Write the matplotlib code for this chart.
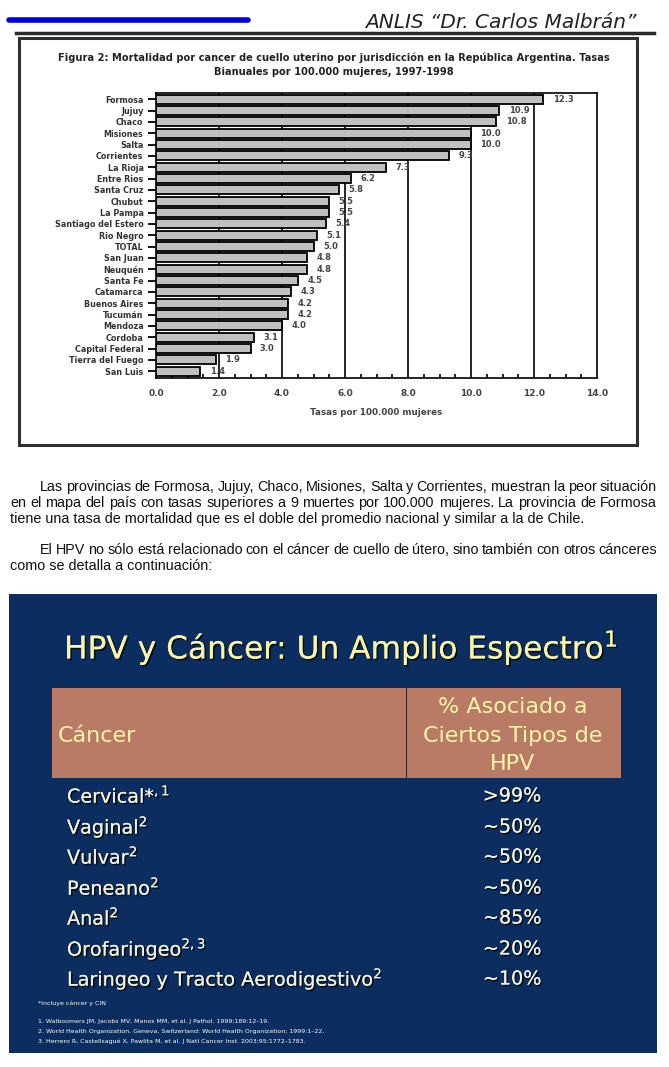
import matplotlib
matplotlib.use('Agg')
import matplotlib.pyplot as plt
import matplotlib.patches as mpatches
import matplotlib.patheffects as pe
from matplotlib.ticker import MultipleLocator

# DATOS DEL GRAFICO

provincias = ['Formosa', 'Jujuy', 'Chaco', 'Misiones', 'Salta', 'Corrientes', 'La Rioja',
              'Entre Rios', 'Santa Cruz', 'Chubut', 'La Pampa', 'Santiago del Estero',
              'Rio Negro', 'TOTAL', 'San Juan', 'Neuquén', 'Santa Fe', 'Catamarca',
              'Buenos Aires', 'Tucumán', 'Mendoza', 'Cordoba', 'Capital Federal',
              'Tierra del Fuego', 'San Luis']
tasas = [12.3, 10.9, 10.8, 10.0, 10.0, 9.3, 7.3, 6.2, 5.8, 5.5, 5.5, 5.4, 5.1, 5.0,
         4.8, 4.8, 4.5, 4.3, 4.2, 4.2, 4.0, 3.1, 3.0, 1.9, 1.4]
x_ticks = [0, 2, 4, 6, 8, 10, 12, 14]

# DATOS DE LA TABLA

canceres = ['Cervical*$^{,1}$', 'Vaginal$^{2}$', 'Vulvar$^{2}$', 'Peneano$^{2}$', 'Anal$^{2}$',
            'Orofaringeo$^{2,3}$', 'Laringeo y Tracto Aerodigestivo$^{2}$']
porcentajes = ['>99%', '~50%', '~50%', '~50%', '~85%', '~20%', '~10%']
referencias = ['1. Walboomers JM, Jacobs MV, Manos MM, et al. J Pathol. 1999;189:12–19.',
               '2. World Health Organization. Geneva, Switzerland: World Health Organization; 1999:1–22.',
               '3. Herrero R, Castellsagué X, Pawlita M, et al. J Natl Cancer Inst. 2003;95:1772–1783.']

parrafo1 = ['Las provincias de Formosa, Jujuy, Chaco, Misiones, Salta y Corrientes, muestran la peor situación',
            'en el mapa del país con tasas superiores a 9 muertes por 100.000 mujeres. La provincia de Formosa',
            'tiene una tasa de mortalidad que es el doble del promedio nacional y similar a la de Chile.']
parrafo2 = ['El HPV no sólo está relacionado con el cáncer de cuello de útero, sino también con otros cánceres',
            'como se detalla a continuación:']

plt.rcParams['mathtext.default'] = 'regular'

W, H = 669, 1067
fig = plt.figure(figsize=(W / 100, H / 100), dpi=100)


def fx(x):
    return x / W


def fy(y):
    return 1 - y / H


# ENCABEZADO

fig.add_artist(plt.Line2D([fx(9), fx(248)], [fy(20), fy(20)], color='#0000e6', lw=4,
                          solid_capstyle='round'))
fig.text(fx(636), fy(22), 'ANLIS “Dr. Carlos Malbrán”', ha='right', va='center',
         fontsize=14.5, style='italic', color='#222222', family='DejaVu Sans')
fig.add_artist(plt.Line2D([fx(16), fx(654)], [fy(33), fy(33)], color='#2a2a2a', lw=2.5))

# MARCO DEL GRAFICO

fig.add_artist(mpatches.Rectangle((fx(19), fy(445)), fx(637) - fx(19), fy(38) - fy(445),
                                  fill=False, edgecolor='#303030', lw=2.2))
fig.text(fx(334), fy(58), 'Figura 2: Mortalidad por cancer de cuello uterino por jurisdicción en la '
         'República Argentina. Tasas', ha='center', va='center', fontsize=7.1, weight='bold',
         color='#222222')
fig.text(fx(334), fy(72), 'Bianuales por 100.000 mujeres, 1997-1998', ha='center', va='center',
         fontsize=7.1, weight='bold', color='#222222')

ax = fig.add_axes([fx(156), fy(378), fx(597) - fx(156), fy(93) - fy(378)])
pos = list(range(len(provincias)))
ax.barh(pos, tasas, height=0.8, color='#c0c0c0', edgecolor='black', lw=1.3, zorder=3)
for p, v in zip(pos, tasas):
    ax.text(v + 0.3, p, f'{v:.1f}', va='center', ha='left', fontsize=6, color='#444444',
            weight='bold', zorder=4)
ax.set_xlim(0, 14)
ax.set_ylim(24.6, -0.55)
ax.set_xticks(x_ticks)
ax.set_xticklabels([f'{t:.1f}' for t in x_ticks], fontsize=6.5, color='#444444', weight='bold')
ax.xaxis.set_minor_locator(MultipleLocator(0.5))
ax.tick_params(axis='x', which='major', length=0, pad=8)
ax.tick_params(axis='x', which='minor', direction='in', length=3, width=1.2)
ax.set_yticks(pos)
ax.set_yticklabels(provincias, fontsize=5.8, color='#333333', weight='bold')
ax.tick_params(axis='y', length=6, width=1.3, pad=3)
ax.set_xlabel('Tasas por 100.000 mujeres', fontsize=6.3, color='#444444', weight='bold', labelpad=7)
for t in x_ticks[1:-1]:
    ax.axvline(t, color='black', lw=1.2, zorder=1)
for s in ax.spines.values():
    s.set_linewidth(1.2)

# TEXTO


def justificar(texto, x0, x1, y, size, fam):
    palabras = texto.split(' ')
    r = fig.canvas.get_renderer()
    objs = [fig.text(0, fy(y), w, fontsize=size, family=fam, va='center', ha='left', color='#111111')
            for w in palabras]
    anchos = [o.get_window_extent(r).width for o in objs]
    hueco = (x1 - x0 - sum(anchos)) / (len(palabras) - 1)
    x = x0
    for o, a in zip(objs, anchos):
        o.set_x(fx(x))
        x += a + hueco


fam_txt = ['Liberation Sans Narrow', 'Liberation Sans']
justificar(parrafo1[0], 40, 657, 487, 10.4, fam_txt)
justificar(parrafo1[1], 10, 657, 503, 10.4, fam_txt)
fig.text(fx(10), fy(519), parrafo1[2], fontsize=10.4, family=fam_txt, va='center', color='#111111')
justificar(parrafo2[0], 40, 657, 550, 10.4, fam_txt)
fig.text(fx(10), fy(566), parrafo2[1], fontsize=10.4, family=fam_txt, va='center', color='#111111')

# DIAPOSITIVA

navy = '#0b2d60'
amarillo = '#fbf6a6'
crema = '#f6f3dc'
fig.add_artist(mpatches.Rectangle((fx(9), fy(1053)), fx(657) - fx(9), fy(594) - fy(1053),
                                  facecolor=navy, edgecolor='none'))
sombra = [pe.withSimplePatchShadow(offset=(1.2, -1.2), shadow_rgbFace='black', alpha=0.7), pe.Normal()]
fig.text(fx(341), fy(648), 'HPV y Cáncer: Un Amplio Espectro$^{1}$', ha='center', va='center',
         fontsize=22.5, color=amarillo, family='DejaVu Sans', path_effects=sombra)

fig.add_artist(mpatches.Rectangle((fx(52), fy(778)), fx(621) - fx(52), fy(688) - fy(778),
                                  facecolor='#b97a66', edgecolor='none'))
fig.add_artist(plt.Line2D([fx(406), fx(406)], [fy(688), fy(778)], color='#3a2a2a', lw=0.8))
fig.text(fx(58), fy(736), 'Cáncer', ha='left', va='center', fontsize=16, color=amarillo)
for yy, s in zip([707, 736, 764], ['% Asociado a', 'Ciertos Tipos de', 'HPV']):
    fig.text(fx(513), fy(yy), s, ha='center', va='center', fontsize=16, color=amarillo)

filas_y = [796, 827, 857, 888, 918, 949, 979]
for yy, c, p in zip(filas_y, canceres, porcentajes):
    fig.text(fx(67), fy(yy), c, ha='left', va='center', fontsize=13.8, color=crema, path_effects=sombra)
    fig.text(fx(512), fy(yy), p, ha='center', va='center', fontsize=13.8, color=crema, path_effects=sombra)

fig.text(fx(38), fy(1003), '*Incluye cáncer y CIN', fontsize=4.5, color='white', va='center')
for yy, r in zip([1021, 1031, 1041], referencias):
    fig.text(fx(38), fy(yy), r, fontsize=4.5, color='white', va='center')

fig.savefig('out.png', dpi=100)
